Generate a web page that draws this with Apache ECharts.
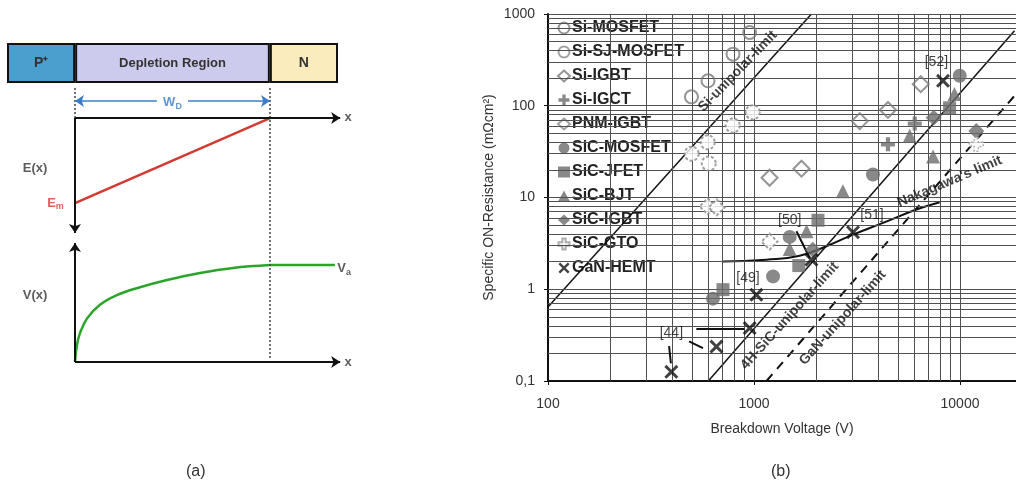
<!DOCTYPE html>
<html><head><meta charset="utf-8">
<script src="https://cdn.jsdelivr.net/npm/echarts@6/dist/echarts.min.js"></script>
<style>html,body{margin:0;padding:0;background:#fff}#c{width:1016px;height:486px}</style>
</head><body><div id="c"></div>
<script>
// ---------- Panel (b) data ----------
const siMosfet   = [[497,125],[598,187],[791,365],[953,630]];
const siSjMosfet = [[498,30],[596,40],[603,23.5],[788,61],[986,85]];
const siIgbt     = [[1190,16.4],[1700,20.6],[3260,68],[4470,90],[6450,172]];
const siIgct     = [[4470,38],[6030,64]];
const pnmIgbt    = [[596,8],[659,7.8],[1190,3.3]];
const sicMosfet  = [[632,0.79],[1237,1.38],[1490,3.72],[3780,17.8],[9970,212]];
const sicJfet    = [[707,0.99],[1650,1.81],[2045,5.65],[8900,95]];
const sicBjt     = [[1490,2.75],[1800,4.3],[2700,11.7],[5700,47],[7400,28],[9400,134]];
const sicIgbt    = [[1930,2.7],[7450,74],[12000,53]];
const sicGto     = [[12000,38]];
const ganHemt    = [[397,0.126],[657,0.237],[953,0.377],[1027,0.87],[1900,2.1],[3025,4.18],[8270,187]];
const siLimit    = [[100,0.64],[1900,1000]];
const sicLimit   = [[600,0.1],[18400,657]];
const ganLimit   = [[1150,0.1],[18700,134]];
const nakagawa   = [[707,2.01],[1148,2.10],[1667,2.32],[2246,2.94],[3025,3.94],[4230,5.29],[6140,7.39],[7970,8.89]];
const leaders    = [[[387,0.24],[395,0.156]],[[484,0.27],[565,0.228]],[[525,0.37],[900,0.37]],[[1607,4.28],[1864,2.19]]];
const notes = [
  {text:'Si-unipolar-limit', at:[834,238], rot:46, bold:true},
  {text:'4H-SiC-unipolar-limit', at:[1490,0.513], rot:48, bold:true},
  {text:'GaN-unipolar-limit', at:[2696,0.489], rot:48, bold:true},
  {text:"Nakagawa's limit", at:[8910,14.96], rot:23, bold:true},
  {text:'[52]', at:[7680,296], rot:0},
  {text:'[51]', at:[3740,6.41], rot:0},
  {text:'[50]', at:[1490,5.65], rot:0},
  {text:'[49]', at:[935,1.33], rot:0},
  {text:'[44]', at:[397,0.332], rot:0}
];
const gridX = [200,300,400,500,600,700,800,900,1000,2000,3000,4000,5000,6000,7000,8000,9000,10000];
const gridY = [0.2,0.3,0.4,0.5,0.6,0.7,0.8,0.9,1,2,3,4,5,6,7,8,9,10,20,30,40,50,60,70,80,90,100,200,300,400,500,600,700,800,900,1000];

// ---------- Panel (a) schematic data ----------
const regionNames  = ['P⁺','Depletion Region','N'];
const regionWidths = [0.35,1,0.35];
const regionColors = ['#4b9fcf','#cdcbed','#fbecbd'];
const eField = [[0,1.639],[1,2.515]];
const vCurve = [[0,0],[0.01,0.175],[0.026,0.30],[0.062,0.45],[0.128,0.59],[0.215,0.69],[0.333,0.77],[0.472,0.845],[0.641,0.918],[0.81,0.97],[1,1]];
const vFlat  = [[1,1],[1.333,1]];
const eAxis  = [[0,2.515],[1.36,2.515]];
const eDown  = [[0,2.515],[0,1.33]];
const vUp    = [[0,0],[0,1.227]];
const vAxis  = [[0,0],[1.36,0]];
const wdLeft = [[0.42,2.69],[0,2.69]];
const wdRight= [[0.58,2.69],[1,2.69]];
const dotLines = [[[0,2.825],[0,2.515]],[[1,2.825],[1,0.04]]];
const aLabels = [
  {t:'{b|E(x)}', at:[-0.205,2.0]},
  {t:'{r|E}{rs|m}', at:[-0.1,1.64]},
  {t:'{b|V(x)}', at:[-0.205,0.69]},
  {t:'{b|V}{bs|a}', at:[1.38,0.96]},
  {t:'{b|x}', at:[1.4,2.52]},
  {t:'{b|x}', at:[1.4,0]},
  {t:'{w|W}{ws|D}', at:[0.5,2.68]}
];

const FONT = "'Liberation Sans', Arial, sans-serif";
const GREY = '#6b6b6b';
const X_PATH = 'path://M0,3 L3,0 L10,7 L17,0 L20,3 L13,10 L20,17 L17,20 L10,13 L3,20 L0,17 L7,10 Z';
const PLUS_PATH = 'path://M7,0 H13 V7 H20 V13 H13 V20 H7 V13 H0 V7 H7 Z';

function sc(name, data, symbol, size, style){
  return {name, type:'scatter', xAxisIndex:0, yAxisIndex:0, data, symbol, symbolSize:size, itemStyle:style, z:6};
}
function lim(data, style, smooth){
  return {type:'line', xAxisIndex:0, yAxisIndex:0, data, symbol:'none', smooth:!!smooth, lineStyle:style, z:4, silent:true};
}
const seg = p => [{coord:p[0]},{coord:p[1]}];
function arrowLine(pair, color, width){
  return {type:'line', xAxisIndex:1, yAxisIndex:1, data:[], silent:true, z:3,
    markLine:{silent:true, animation:false, symbol:['none','arrow'], symbolSize:9, label:{show:false},
      lineStyle:{color, width, type:'solid'}, itemStyle:{color}, data:[seg(pair)]}};
}
const fmt = v => String(+(+v).toPrecision(4)).replace('.', ',');

const legendNames = ['Si-MOSFET','Si-SJ-MOSFET','Si-IGBT','Si-IGCT','PNM-IGBT','SiC-MOSFET','SiC-JFET','SiC-BJT','SiC-IGBT','SiC-GTO','GaN-HEMT'];

const option = {
  animation:false,
  backgroundColor:'#fff',
  textStyle:{fontFamily:FONT},
  title:[
    {text:'(a)', left:181, top:459, textStyle:{fontSize:16, fontWeight:'normal', color:'#333', fontFamily:FONT}},
    {text:'(b)', left:766, top:459, textStyle:{fontSize:16, fontWeight:'normal', color:'#333', fontFamily:FONT}}
  ],
  legend:{orient:'vertical', left:552, top:15, itemGap:8, itemWidth:12, itemHeight:11, selectedMode:false,
    textStyle:{fontSize:16, fontWeight:'bold', color:'#222', fontFamily:FONT, padding:[0,0,0,-3]}, data:legendNames},
  grid:[
    {left:548, right:0, top:14, bottom:105},
    {left:75, width:285, top:88, height:282},
    {left:7, width:331, top:43, height:40}
  ],
  xAxis:[
    {gridIndex:0, type:'log', logBase:10, min:100, max:18700,
     axisLine:{lineStyle:{color:'#111', width:2}}, axisTick:{length:4, lineStyle:{color:'#111'}},
     axisLabel:{fontSize:14, color:'#333', margin:16, formatter:fmt, showMaxLabel:false, fontFamily:FONT},
     splitLine:{show:false},
     name:'Breakdown Voltage (V)', nameLocation:'middle', nameGap:41, nameTextStyle:{fontSize:14, color:'#333', fontFamily:FONT}},
    {gridIndex:1, type:'value', min:0, max:285/195, show:false},
    {gridIndex:2, type:'value', min:0, max:1.7, show:false}
  ],
  yAxis:[
    {gridIndex:0, type:'log', logBase:10, min:0.1, max:1000,
     axisLine:{lineStyle:{color:'#111', width:2}}, axisTick:{length:4, lineStyle:{color:'#111'}},
     axisLabel:{fontSize:14, color:'#333', margin:13, formatter:fmt, fontFamily:FONT},
     splitLine:{show:false},
     name:'Specific ON-Resistance (mΩcm²)', nameLocation:'middle', nameGap:52, nameRotate:90,
     nameTextStyle:{fontSize:14, color:'#333', fontFamily:FONT}},
    {gridIndex:1, type:'value', min:-0.0825, max:2.825, show:false},
    {gridIndex:2, type:'category', data:['layer'], show:false}
  ],
  series:[
    {type:'line', xAxisIndex:0, yAxisIndex:0, data:[], silent:true, z:1,
     markLine:{silent:true, animation:false, symbol:'none', label:{show:false},
       lineStyle:{color:'#505050', width:1, type:'solid'},
       data:[...gridX.map(v=>({xAxis:v})), ...gridY.map(v=>({yAxis:v}))]}},
    lim(siLimit, {color:'#111', width:1.5}),
    lim(sicLimit, {color:'#111', width:1.5}),
    lim(ganLimit, {color:'#111', width:2, type:[9,7]}),
    lim(nakagawa, {color:'#111', width:2}, true),
    {type:'line', xAxisIndex:0, yAxisIndex:0, data:[], silent:true, z:4,
     markLine:{silent:true, animation:false, symbol:'none', label:{show:false},
       lineStyle:{color:'#111', width:2, type:'solid'}, data:leaders.map(seg)}},
    sc('Si-MOSFET', siMosfet, 'circle', 13, {color:'rgba(255,255,255,0)', borderColor:'#7a7a7a', borderWidth:2}),
    sc('Si-SJ-MOSFET', siSjMosfet, 'circle', 14, {color:'#fff', borderColor:'#8a8a8a', borderWidth:2, borderType:[3,2]}),
    sc('Si-IGBT', siIgbt, 'diamond', 16, {color:'rgba(255,255,255,0)', borderColor:'#7a7a7a', borderWidth:2}),
    sc('Si-IGCT', siIgct, PLUS_PATH, 14, {color:GREY}),
    sc('PNM-IGBT', pnmIgbt, 'diamond', 16, {color:'#fff', borderColor:'#8a8a8a', borderWidth:2, borderType:[3,2]}),
    sc('SiC-MOSFET', sicMosfet, 'circle', 14, {color:GREY}),
    sc('SiC-JFET', sicJfet, 'rect', 13, {color:GREY}),
    sc('SiC-BJT', sicBjt, 'triangle', 14, {color:GREY}),
    sc('SiC-IGBT', sicIgbt, 'diamond', 16, {color:GREY}),
    sc('SiC-GTO', sicGto, PLUS_PATH, 14, {color:'#fff', borderColor:'#999', borderWidth:1.5, borderType:[2,2]}),
    sc('GaN-HEMT', ganHemt, X_PATH, 14, {color:'#111'}),
    {type:'scatter', xAxisIndex:0, yAxisIndex:0, symbolSize:1, itemStyle:{color:'rgba(0,0,0,0)'}, silent:true, z:7,
     label:{show:true, position:'inside', color:'#111', fontSize:14, fontFamily:FONT, formatter:p=>p.name},
     data:notes.map(n=>({name:n.text, value:n.at, label:{rotate:n.rot, fontWeight:n.bold?'bold':'normal'}}))},

    ...regionNames.map((nm,i)=>({name:nm, type:'bar', xAxisIndex:2, yAxisIndex:2, stack:'layers', barWidth:'100%',
      data:[regionWidths[i]], silent:true,
      itemStyle:{color:regionColors[i], borderColor:'#111', borderWidth:2},
      label:{show:true, position:'inside', formatter:nm, color:'#333', fontSize:i===1?13:14, fontWeight:'bold', fontFamily:FONT}})),
    {type:'line', xAxisIndex:1, yAxisIndex:1, data:[], silent:true, z:2,
     markLine:{silent:true, animation:false, symbol:'none', label:{show:false},
       lineStyle:{color:'#444', width:1.5, type:[2,2]}, data:dotLines.map(seg)}},
    arrowLine(eAxis, '#111', 2),
    arrowLine(eDown, '#111', 2),
    arrowLine(vUp, '#111', 2),
    arrowLine(vAxis, '#111', 2),
    arrowLine(wdLeft, '#3a7cc8', 1.5),
    arrowLine(wdRight, '#3a7cc8', 1.5),
    {type:'line', xAxisIndex:1, yAxisIndex:1, data:eField, symbol:'none', clip:false, silent:true, z:4,
     lineStyle:{color:'#d23a32', width:2.5}},
    {type:'line', xAxisIndex:1, yAxisIndex:1, data:vCurve, symbol:'none', smooth:0.4, clip:false, silent:true, z:4,
     lineStyle:{color:'#2aa52a', width:2.5}},
    {type:'line', xAxisIndex:1, yAxisIndex:1, data:vFlat, symbol:'none', clip:false, silent:true, z:4,
     lineStyle:{color:'#2aa52a', width:2.5}},
    {type:'scatter', xAxisIndex:1, yAxisIndex:1, symbolSize:1, itemStyle:{color:'rgba(0,0,0,0)'}, silent:true, clip:false, z:7,
     label:{show:true, position:'inside', formatter:p=>p.name,
       rich:{
         b:{fontSize:13, fontWeight:'bold', color:'#333', fontFamily:FONT},
         bs:{fontSize:9, fontWeight:'bold', color:'#333', fontFamily:FONT, padding:[8,0,0,0]},
         r:{fontSize:13, fontWeight:'bold', color:'#d23a32', fontFamily:FONT},
         rs:{fontSize:9, fontWeight:'bold', color:'#d23a32', fontFamily:FONT, padding:[8,0,0,0]},
         w:{fontSize:13, fontWeight:'bold', color:'#3a7cc8', fontFamily:FONT},
         ws:{fontSize:9, fontWeight:'bold', color:'#3a7cc8', fontFamily:FONT, padding:[8,0,0,0]}
       }},
     data:aLabels.map(l=>({name:l.t, value:l.at}))}
  ]
};
const chart = echarts.init(document.getElementById('c'), null, {renderer:'canvas'});
chart.setOption(option);
</script></body></html>
